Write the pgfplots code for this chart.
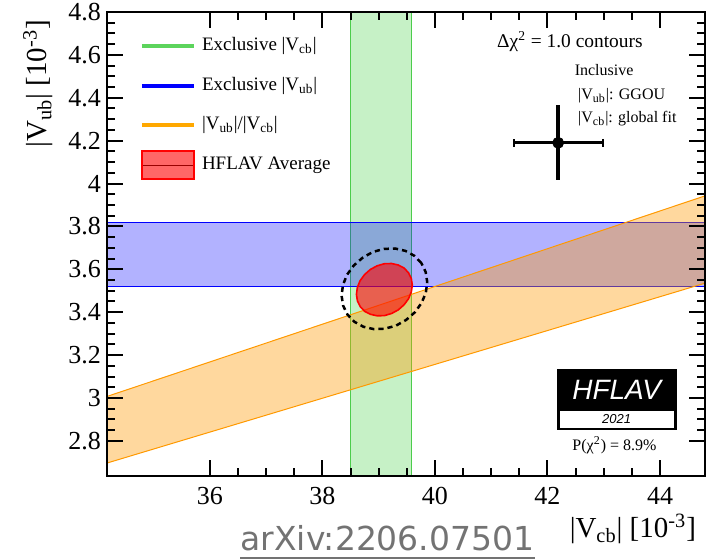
\documentclass[border=0pt]{standalone}
\usepackage{pgfplots}
\pgfplotsset{compat=1.18}
\usepackage{fontspec}
\setmainfont{Liberation Serif}
\newfontfamily\arxivfont{DejaVu Sans}
\newfontfamily\logofont{Liberation Sans}
\definecolor{bandgreen}{rgb}{0.2,0.8,0.2}
\definecolor{edgegreen}{rgb}{0.3,0.8,0.3}
\definecolor{leggreen}{rgb}{0.36,0.83,0.36}
\definecolor{bandorange}{rgb}{1,0.6,0}
\definecolor{legorange}{rgb}{1,0.66,0}
\definecolor{arxivgray}{rgb}{0.45,0.45,0.45}
\begin{document}
\begin{tikzpicture}
\begin{axis}[
  scale only axis, width=299pt, height=232pt,
  xmin=34.17, xmax=44.8, ymin=2.636, ymax=4.8,
  xtick={36,38,40,42,44}, minor x tick num=3,
  ytick={2.8,3,3.2,3.4,3.6,3.8,4,4.2,4.4,4.6,4.8}, minor y tick num=3,
  tick align=inside,
  major tick length=8pt, minor tick length=4pt,
  tick style={black, line width=1pt},
  axis line style={line width=1.2pt},
  axis on top,
  /pgf/number format/assume math mode=true,
  xticklabel style={font=\fontsize{13}{15}\selectfont, yshift=-2pt},
  yticklabel style={font=\fontsize{13}{15}\selectfont, xshift=0.5pt},
  legend style={at={(axis description cs:0,1)}, anchor=north west, xshift=16.5pt, yshift=-12.25pt,
    draw=none, fill=none, inner sep=0pt, outer sep=0pt, row sep=10.35pt, column sep=3pt,
    font=\fontsize{9.5}{11}\selectfont, nodes={inner sep=0pt, text height=7pt, text depth=2.5pt}},
  legend cell align=left,
]
% Exclusive Vcb band
\addplot[forget plot, draw=edgegreen, line width=0.5pt, fill=bandgreen, fill opacity=0.28]
  coordinates {(38.50,2.0) (39.575,2.0) (39.575,5.0) (38.50,5.0)} -- cycle;
% Exclusive Vub band
\addplot[forget plot, draw=blue, line width=0.5pt, fill=blue, fill opacity=0.3]
  coordinates {(33,3.52) (46,3.52) (46,3.82) (33,3.82)} -- cycle;
% Vub/Vcb band
\addplot[forget plot, draw=bandorange, line width=0.5pt, fill=bandorange, fill opacity=0.38]
  coordinates {(34,2.683) (45,3.551) (45,3.960) (34,2.992)} -- cycle;
% HFLAV average
\addplot[forget plot, draw=red, line width=0.8pt, fill=red, fill opacity=0.6]
  coordinates {(39.529,3.584) (39.450,3.606) (39.347,3.620) (39.227,3.627) (39.098,3.626) (38.970,3.616)
   (38.850,3.599) (38.748,3.575) (38.669,3.547) (38.620,3.515) (38.604,3.483) (38.621,3.453)
   (38.671,3.426) (38.750,3.404) (38.853,3.390) (38.973,3.383) (39.102,3.384) (39.230,3.394)
   (39.350,3.411) (39.452,3.435) (39.531,3.463) (39.580,3.495) (39.597,3.527) (39.579,3.557)} -- cycle;
% dashed contour
\addplot[forget plot, black, line width=1.25pt, dash pattern=on 2.6pt off 2pt]
  coordinates {(39.756,3.630) (39.633,3.663) (39.474,3.686) (39.290,3.697) (39.093,3.695) (38.896,3.681)
   (38.714,3.654) (38.557,3.618) (38.438,3.575) (38.364,3.527) (38.340,3.477) (38.368,3.430)
   (38.446,3.388) (38.569,3.355) (38.728,3.332) (38.912,3.321) (39.109,3.323) (39.306,3.337)
   (39.488,3.364) (39.645,3.400) (39.764,3.444) (39.838,3.491) (39.862,3.541) (39.834,3.588)} -- cycle;
% Inclusive point
\addplot[forget plot, black, only marks, mark=none,
  error bars/.cd, x dir=both, x explicit, error bar style={line width=1.3pt},
  error mark=|, error mark options={mark size=2pt, line width=1pt}]
  coordinates {(42.19,4.19) +- (0.79,0)};
\addplot[forget plot, black, only marks, mark=*, mark size=2.75pt,
  error bars/.cd, y dir=both, y explicit, error bar style={line width=1.8pt}, error mark=none]
  coordinates {(42.19,4.19) +- (0,0.175)};
% legend
\addlegendimage{legend image code/.code={\draw[leggreen, line width=2pt] (0pt,0pt) -- (26pt,0pt);}}
\addlegendentry{Exclusive |V\textsubscript{cb}|}
\addlegendimage{legend image code/.code={\draw[blue, line width=2pt] (0pt,0pt) -- (26pt,0pt);}}
\addlegendentry{Exclusive |V\textsubscript{ub}|}
\addlegendimage{legend image code/.code={\draw[legorange, line width=2pt] (0pt,0pt) -- (26pt,0pt);}}
\addlegendentry{|V\textsubscript{ub}|/|V\textsubscript{cb}|}
\addlegendimage{legend image code/.code={\path (0pt,0pt) -- (26pt,0pt); \draw[overlay, draw=red, line width=0.6pt, fill=red, fill opacity=0.6] (0pt,-7pt) rectangle (26pt,7pt);}}
\addlegendentry{HFLAV Average}
% annotations
\node[anchor=base west, font=\fontsize{9.7}{11}\selectfont] at (axis cs:40.98,4.635) {Δχ\textsuperscript{2} = 1.0 contours};
\node[anchor=base west, font=\fontsize{8}{9}\selectfont] at (axis cs:42.36,4.502) {Inclusive};
\node[anchor=base west, font=\fontsize{8}{9}\selectfont] at (axis cs:42.42,4.393) {|V\textsubscript{ub}|: GGOU};
\node[anchor=base west, font=\fontsize{8}{9}\selectfont] at (axis cs:42.42,4.285) {|V\textsubscript{cb}|: global fit};
\fill[black] (axis cs:42.17,2.851) rectangle (axis cs:44.30,3.135);
\fill[white] (axis cs:42.215,2.862) rectangle (axis cs:44.255,2.937);
\node[text=white, font=\fontsize{14}{16}\selectfont\logofont\itshape] at (axis cs:43.23,3.036) {HFLAV};
\node[font=\fontsize{6.5}{7}\selectfont\logofont\itshape] at (axis cs:43.23,2.900) {2021};
\node[anchor=base, font=\fontsize{8}{9}\selectfont] at (axis cs:43.19,2.755) {P(χ\textsuperscript{2}) = 8.9\%};
\coordinate (sw) at (rel axis cs:0,0);
\coordinate (se) at (rel axis cs:1,0);
\coordinate (nw) at (rel axis cs:0,1);
\coordinate (ne) at (rel axis cs:1,1);
\end{axis}
\node[anchor=base east, font=\fontsize{14.5}{17}\selectfont] at ([shift={(-1pt,-31pt)}]se) {|V\textsubscript{cb}| [10\textsuperscript{-3}]};
\node[rotate=90, anchor=base east, font=\fontsize{14.5}{17}\selectfont] at ([shift={(-30pt,-0.5pt)}]nw) {|V\textsubscript{ub}| [10\textsuperscript{-3}]};
\node[inner sep=0pt, anchor=base, font=\fontsize{16.5}{19}\selectfont\arxivfont, text=arxivgray] (arx) at ([shift={(140.25pt,-37.35pt)}]sw) {arXiv:2206.07501};
\draw[arxivgray, line width=1pt] ([yshift=-3.5pt]arx.base west) -- ([yshift=-3.5pt]arx.base east);
\pgfresetboundingbox
\path[use as bounding box] ([shift={(-53.5pt,-42pt)}]sw) rectangle ([shift={(8pt,6pt)}]ne);
\end{tikzpicture}
\end{document}
